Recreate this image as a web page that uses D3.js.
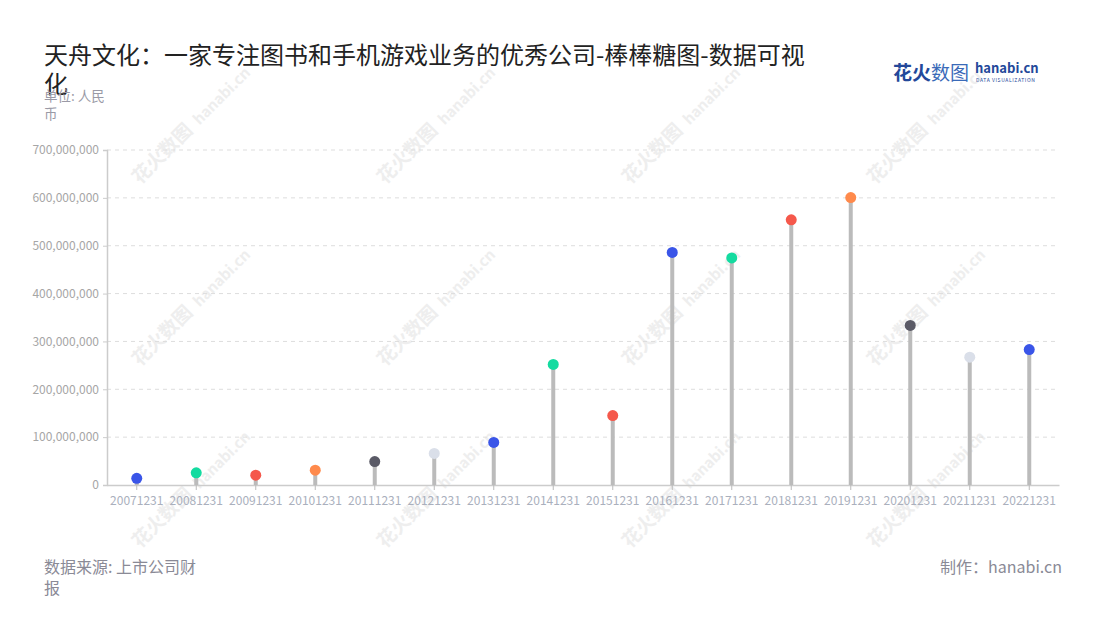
<!DOCTYPE html>
<html><head><meta charset="utf-8">
<script src="https://cdn.jsdelivr.net/npm/d3@7"></script>
<style>body{margin:0;background:#fff;font-family:"Noto Sans CJK SC","Noto Sans",sans-serif;}</style>
</head><body><svg id="c" width="1100" height="620"></svg>
<script>
const categories = ["20071231","20081231","20091231","20101231","20111231","20121231","20131231","20141231","20151231","20161231","20171231","20181231","20191231","20201231","20211231","20221231"];
const values = [14000000,25500000,20500000,31000000,49000000,66000000,89000000,252000000,145000000,486000000,474500000,554000000,600500000,333500000,267000000,283000000];
const dotColors = ["#3a55e8","#14dba0","#f5584b","#ff8a4c","#5a5a66","#dadfe9","#3a55e8","#14dba0","#f5584b","#3a55e8","#14dba0","#f5584b","#ff8a4c","#5a5a66","#dadfe9","#3a55e8"];
const yTicks = [0,100000000,200000000,300000000,400000000,500000000,600000000,700000000];

const svg = d3.select("#c");
const font = '"Noto Sans CJK SC","Noto Sans",sans-serif';
const L = 107, R = 1059, T = 150, B = 485;

// watermarks
const wm = svg.append("g").attr("fill","#eeeeee").attr("font-family",font);
for (let r = 0; r < 3; r++) for (let c = 0; c < 4; c++) {
  const g = wm.append("g").attr("transform",`translate(${140+c*245},${185+r*182}) rotate(-45)`);
  g.append("text").attr("font-size",19).attr("font-weight","bold").text("花火数图");
  g.append("text").attr("x",84).attr("font-size",15).attr("font-weight","bold").text("hanabi.cn");
}

const x = d3.scaleBand().domain(categories).range([L,R]);
const y = d3.scaleLinear().domain([0,700000000]).range([B,T]);

// grid
svg.append("g").selectAll("line").data(yTicks.slice(1)).join("line")
  .attr("x1",L).attr("x2",R).attr("y1",d=>y(d)).attr("y2",d=>y(d))
  .attr("stroke","#ddd").attr("stroke-dasharray","4,4");

// y axis
const ya = svg.append("g").attr("transform",`translate(${L},0)`)
  .call(d3.axisLeft(y).tickValues(yTicks).tickFormat(d3.format(",")).tickSize(4).tickPadding(4));
ya.select(".domain").attr("stroke","#ccc").attr("stroke-width",1.5);
ya.selectAll(".tick line").attr("stroke","#ccc");
ya.selectAll("text").attr("fill","#a6a6a6").attr("font-size",12).attr("font-family",font);

// x axis
const xa = svg.append("g").attr("transform",`translate(0,${B})`)
  .call(d3.axisBottom(x).tickSize(5).tickPadding(6).tickSizeOuter(0));
xa.select(".domain").attr("stroke","#ccc").attr("stroke-width",1.5);
xa.selectAll(".tick line").attr("stroke","#bbb");
xa.selectAll("text").attr("fill","#aab0bd").attr("font-size",12).attr("font-family",font);

// stems
svg.append("g").selectAll("line").data(categories).join("line")
  .attr("x1",d=>x(d)+x.bandwidth()/2).attr("x2",d=>x(d)+x.bandwidth()/2)
  .attr("y1",B).attr("y2",(d,i)=>y(values[i]))
  .attr("stroke","#bbbbbb").attr("stroke-width",4);
svg.append("g").selectAll("circle").data(categories).join("circle")
  .attr("cx",d=>x(d)+x.bandwidth()/2).attr("cy",(d,i)=>y(values[i]))
  .attr("r",5.5).attr("fill",(d,i)=>dotColors[i]);

// title
const t = svg.append("text").attr("font-family",font).attr("font-size",24).attr("fill","#222");
t.append("tspan").attr("x",44).attr("y",64).text("天舟文化：一家专注图书和手机游戏业务的优秀公司-棒棒糖图-数据可视");
t.append("tspan").attr("x",44).attr("y",93).text("化");

const u = svg.append("text").attr("font-family",font).attr("font-size",13.5).attr("fill","#9a9aa6");
u.append("tspan").attr("x",44).attr("y",101).text("单位: 人民");
u.append("tspan").attr("x",44).attr("y",119).text("币");

// footer
const f = svg.append("text").attr("font-family",font).attr("font-size",16).attr("fill","#8a8a96");
f.append("tspan").attr("x",44).attr("y",573).text("数据来源: 上市公司财");
f.append("tspan").attr("x",44).attr("y",594).text("报");
svg.append("text").attr("x",1062).attr("y",573).attr("text-anchor","end").attr("font-family",font)
  .attr("font-size",16).attr("fill","#8a8a96").text("制作：hanabi.cn");

// logo
const lg = svg.append("g").attr("font-family",font);
lg.append("text").attr("x",893).attr("y",80).attr("font-size",19).attr("font-weight","bold").attr("fill","#23489a").text("花火");
lg.append("text").attr("x",931).attr("y",80).attr("font-size",19).attr("fill","#3a6ab8").text("数图");
lg.append("text").attr("x",975).attr("y",73).attr("font-size",13).attr("font-weight","bold").attr("fill","#23489a").text("hanabi.cn");
lg.append("text").attr("x",976).attr("y",82).attr("font-size",5).attr("fill","#23489a").attr("letter-spacing",0.6).text("DATA VISUALIZATION");
</script></body></html>
